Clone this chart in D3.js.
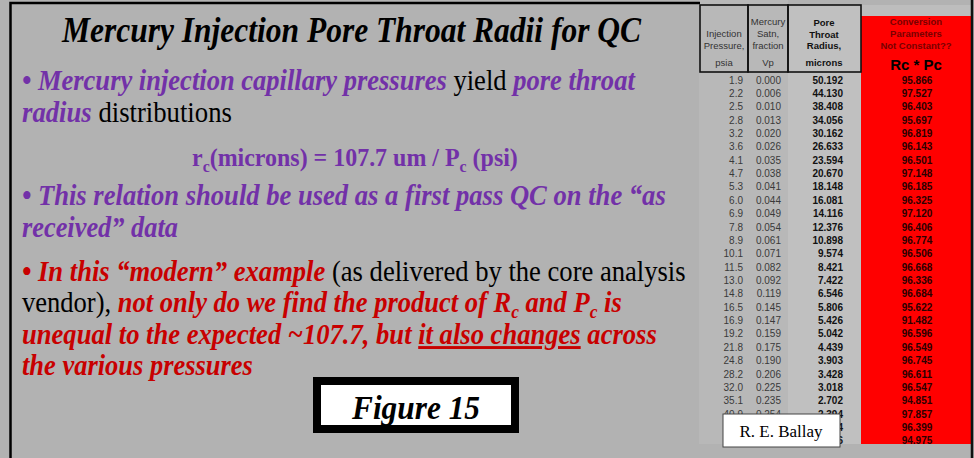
<!DOCTYPE html>
<html><head><meta charset="utf-8">
<script src="https://cdn.jsdelivr.net/npm/d3@7"></script>
<style>html,body{margin:0;padding:0;background:#b2b2b2;}svg{display:block;}</style>
</head><body><svg id="c" width="974" height="458"></svg>
<script>
// ---- data (last two rows are hidden behind the label box, estimated) ----
const pressures   = [1.9,2.2,2.5,2.8,3.2,3.6,4.1,4.7,5.3,6.0,6.9,7.8,8.9,10.1,11.5,13.0,14.8,16.5,16.9,19.2,21.8,24.8,28.2,32.0,35.1,40.9,47.2,53.5];
const saturations = [0.000,0.006,0.010,0.013,0.020,0.026,0.035,0.038,0.041,0.044,0.049,0.054,0.061,0.071,0.082,0.092,0.119,0.145,0.147,0.159,0.175,0.190,0.206,0.225,0.235,0.254,0.274,0.296];
const radii       = [50.192,44.130,38.408,34.056,30.162,26.633,23.594,20.670,18.148,16.081,14.116,12.376,10.898,9.574,8.421,7.422,6.546,5.806,5.426,5.042,4.439,3.903,3.428,3.018,2.702,2.394,2.044,1.776];
const products    = [95.866,97.527,96.403,95.697,96.819,96.143,96.501,97.148,96.185,96.325,97.120,96.406,96.774,96.506,96.668,96.336,96.684,95.622,91.482,96.596,96.549,96.745,96.611,96.547,94.851,97.857,96.399,94.975];
const headerCol1 = ["Injection","Pressure,","psia"];
const headerCol2 = ["Mercury","Satn,","fraction","Vp"];
const headerCol3 = ["Pore","Throat","Radius,","microns"];
const headerCol4 = ["Conversion","Parameters","Not Constant??"];
const headerCol4Big = "Rc * Pc";

const svg = d3.select("#c");
const PURPLE = "#7231a8", RED = "#c80000";
const serif = "'Liberation Serif','Times New Roman',serif";
const sans = "'Liberation Sans',Arial,sans-serif";

svg.append("rect").attr("width",974).attr("height",458).attr("fill","#b2b2b2");

// ---- left slide text ----
const lines = [
  {x0:62,x1:643,y:42,size:36,segs:[{t:"Mercury Injection Pore Throat Radii for QC",s:"ti"}]},
  {x0:22,x1:636,y:90,size:29,segs:[{t:"• Mercury injection capillary pressures",s:"pi"},{t:" yield ",s:"n"},{t:"pore throat",s:"pi"}]},
  {x0:22,x1:232,y:122,size:29,segs:[{t:"radius",s:"pi"},{t:" distributions",s:"n"}]},
  {x0:192,x1:518,y:166,size:25,segs:[{t:"r",s:"pb"},{t:"c",s:"pbsub"},{t:"(microns) = 107.7 um / P",s:"pb"},{t:"c",s:"pbsub"},{t:" (psi)",s:"pb"}]},
  {x0:22,x1:666,y:205,size:29,segs:[{t:"• This relation should be used as a first pass QC on the “as",s:"pi"}]},
  {x0:22,x1:178,y:237,size:29,segs:[{t:"received” data",s:"pi"}]},
  {x0:22,x1:686,y:281,size:29,segs:[{t:"• In this “modern” example",s:"ri"},{t:" (as delivered by the core analysis",s:"n"}]},
  {x0:22,x1:622,y:312,size:29,segs:[{t:"vendor), ",s:"n"},{t:"not only do we find the product of R",s:"ri"},{t:"c",s:"risub"},{t:" and P",s:"ri"},{t:"c",s:"risub"},{t:" is",s:"ri"}]},
  {x0:22,x1:657,y:344,size:29,segs:[{t:"unequal to the expected ~107.7, but ",s:"ri"},{t:"it also changes",s:"riu"},{t:" across",s:"ri"}]},
  {x0:22,x1:253,y:375,size:29,segs:[{t:"the various pressures",s:"ri"}]},
  {x0:352,x1:481,y:419,size:33,segs:[{t:"Figure 15",s:"ti"}], late:true}
];
function drawLine(L) {
  const t = svg.append("text").attr("font-family",serif).attr("font-size",L.size).attr("x",0).attr("y",0);
  let shifted = 0;
  L.segs.forEach(sg => {
    const ts = t.append("tspan").text(sg.t);
    const sub = sg.s.endsWith("sub");
    const st = sub ? sg.s.slice(0,-3) : sg.s;
    if (st === "ti") ts.attr("fill","#000").attr("font-weight","bold").attr("font-style","italic");
    if (st === "pi") ts.attr("fill",PURPLE).attr("font-weight","bold").attr("font-style","italic");
    if (st === "pb") ts.attr("fill",PURPLE).attr("font-weight","bold");
    if (st === "n") ts.attr("fill","#000");
    if (st === "ri" || st === "riu") ts.attr("fill",RED).attr("font-weight","bold").attr("font-style","italic");
    if (st === "riu") ts.attr("text-decoration","underline");
    if (sub) { ts.attr("font-size",L.size*0.66).attr("dy",L.size*0.22); shifted = L.size*0.22; }
    else if (shifted) { ts.attr("dy",-shifted); shifted = 0; }
  });
  const w = t.node().getBBox().width;
  t.attr("transform",`translate(${L.x0},${L.y}) scale(${(L.x1-L.x0)/w},1)`);
}
lines.filter(L=>!L.late).forEach(drawLine);

// Figure 15 box
svg.append("rect").attr("x",313).attr("y",377).attr("width",206).attr("height",56).attr("fill","#000");
svg.append("rect").attr("x",321).attr("y",385).attr("width",190).attr("height",40).attr("fill","#fff");
lines.filter(L=>L.late).forEach(drawLine);

// ---- table ----
const n = pressures.length;
const rowIdx = d3.range(n);
const y = d3.scaleBand().domain(rowIdx).range([73.3, 73.3 + 13.36*n]).padding(0);
const col = {p:743, s:781, r:843, c:917};

const tg = svg.append("g");
tg.append("rect").attr("x",699).attr("y",0).attr("width",89).attr("height",444).attr("fill","#b8b8b8");
tg.append("rect").attr("x",788).attr("y",5).attr("width",73).attr("height",439).attr("fill","#c0c0c0");
tg.append("rect").attr("x",861).attr("y",5).attr("width",111).attr("height",11).attr("fill","#bdbdbd");
tg.append("rect").attr("x",861).attr("y",16).attr("width",111).attr("height",428).attr("fill","#ff0000");
// header boxes
[[700,748],[748,788],[788,861]].forEach(([a,b]) => {
  tg.append("rect").attr("x",a).attr("y",5).attr("width",b-a).attr("height",67)
    .attr("fill","none").attr("stroke","#111").attr("stroke-width",1.6);
});
function header(lines, cx, ys, opts) {
  tg.selectAll(null).data(lines).join("text")
    .attr("x",cx).attr("y",(d,i)=>ys[i]).attr("text-anchor","middle")
    .attr("font-family",sans).attr("font-size",opts.size).attr("font-weight",opts.weight||"normal")
    .attr("fill",opts.fill).text(d=>d);
}
header(headerCol1, 724, [37,49,66], {size:9.5, fill:"#333"});
header(headerCol2, 768, [25,37,49,66], {size:9.5, fill:"#333"});
header(headerCol3, 824, [26,38,49,66], {size:9.5, weight:"bold", fill:"#111"});
header(headerCol4, 916, [25,37,49], {size:9.5, weight:"bold", fill:"#7a0000"});
tg.append("text").attr("x",916).attr("y",70).attr("text-anchor","middle").attr("font-family",sans)
  .attr("font-size",15).attr("font-weight","bold").attr("fill","#000").text(headerCol4Big);

function column(vals, x, anchor, fmt, style) {
  tg.selectAll(null).data(vals).join("text")
    .attr("x",x).attr("y",(d,i)=>y(i)+y.bandwidth()/2+3.6)
    .attr("text-anchor",anchor).attr("font-family",sans).attr("font-size",10)
    .attr("font-weight",style.weight||"normal").attr("fill",style.fill).text(fmt);
}
column(pressures, col.p, "end", d=>d.toFixed(1), {fill:"#3a3a3a"});
column(saturations, col.s, "end", d=>d.toFixed(3), {fill:"#3a3a3a"});
column(radii, col.r, "end", d=>d.toFixed(3), {weight:"bold", fill:"#111"});
column(products, col.c, "middle", d=>d.toFixed(3), {weight:"bold", fill:"#2a0000"});

// slide border
svg.append("path").attr("d","M10.5,458 V3 H700").attr("fill","none").attr("stroke","#000").attr("stroke-width",2.5);
svg.append("line").attr("x1",972).attr("x2",972).attr("y1",0).attr("y2",458).attr("stroke","#111").attr("stroke-width",2.5);

// author box
svg.append("rect").attr("x",723).attr("y",414).attr("width",117).attr("height",33)
  .attr("fill","#fff").attr("stroke","#444").attr("stroke-width",1);
svg.append("text").attr("x",781).attr("y",437).attr("text-anchor","middle").attr("font-family",serif)
  .attr("font-size",17).attr("fill","#000").text("R. E. Ballay");
</script></body></html>
